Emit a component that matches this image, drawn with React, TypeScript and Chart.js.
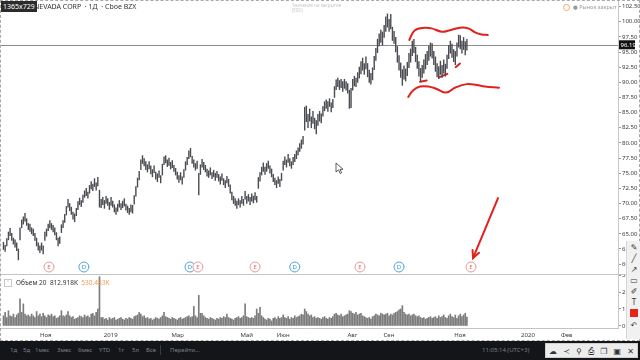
import React, { useEffect, useRef } from 'react';
import { Chart, registerables } from 'chart.js';
Chart.register(...registerables);

const FONT = '"Noto Sans", Roboto, "DejaVu Sans", sans-serif';

// daily bar lows / highs (trading-day index 0..280)
const lows = [
  62.4, 62.1, 63.0, 64.0, 64.7, 63.9, 63.3, 62.8, 62.2, 60.7,
  64.0, 66.0, 66.6, 67.1, 66.4, 65.7, 65.4, 65.0, 64.7, 63.9,
  63.0, 62.3, 61.9, 62.3, 61.7, 63.9, 64.6, 65.5, 66.0, 65.7,
  65.3, 64.8, 64.0, 63.0, 63.4, 65.2, 66.0, 66.9, 68.1, 69.4,
  68.8, 68.2, 67.4, 67.0, 68.0, 69.0, 69.8, 69.5, 70.2, 71.0,
  71.3, 70.9, 71.7, 72.4, 72.1, 72.8, 72.2, 72.9, 69.4, 69.3,
  69.8, 69.2, 70.0, 69.7, 69.0, 69.7, 69.4, 68.6, 68.2, 68.7,
  69.4, 69.0, 69.3, 69.6, 68.9, 68.5, 68.2, 68.6, 68.4, 69.9,
  71.2, 72.7, 73.9, 75.6, 76.6, 76.2, 75.6, 75.2, 75.7, 74.9,
  74.4, 75.1, 74.0, 73.6, 74.3, 73.4, 74.7, 76.4, 76.7, 76.1,
  76.3, 75.7, 75.9, 75.3, 74.7, 74.0, 73.5, 73.9, 73.2, 74.3,
  75.5, 76.4, 77.4, 77.7, 76.6, 76.0, 75.5, 75.8, 71.4, 74.8,
  76.0, 75.6, 75.2, 74.5, 74.3, 74.7, 74.1, 74.4, 73.8, 74.3,
  73.7, 73.2, 73.8, 73.1, 72.6, 73.4, 72.8, 71.7, 70.6, 70.0,
  69.7, 69.2, 69.8, 69.4, 70.0, 69.7, 70.7, 70.0, 70.4, 69.8,
  70.4, 70.1, 70.6, 70.2, 72.5, 73.7, 74.7, 75.3, 74.8, 75.3,
  75.8, 75.0, 74.4, 73.6, 73.1, 72.6, 73.3, 72.8, 73.8, 75.5,
  76.4, 76.0, 76.8, 76.2, 75.8, 76.4, 76.9, 77.4, 78.0, 78.6,
  79.1, 79.8, 82.1, 83.5, 82.5, 83.6, 82.5, 83.2, 82.3, 81.5,
  82.9, 83.6, 83.3, 84.4, 85.3, 85.7, 85.2, 86.0, 85.1, 85.8,
  87.5, 88.8, 89.3, 88.8, 89.1, 88.5, 89.0, 88.7, 88.2, 85.7,
  85.8, 88.7, 89.4, 89.3, 90.0, 90.7, 91.4, 92.0, 91.3, 92.2,
  90.9, 90.0, 89.7, 90.4, 92.1, 93.6, 94.9, 96.0, 96.6, 96.1,
  97.4, 98.4, 99.1, 98.4, 98.8, 96.9, 96.4, 95.0, 93.3, 92.0,
  90.8, 89.5, 90.5, 90.2, 91.1, 92.4, 93.3, 94.4, 94.9, 93.4,
  92.3, 91.0, 90.1, 90.8, 91.5, 92.2, 92.9, 93.6, 94.3, 94.0,
  92.9, 91.8, 90.9, 90.6, 91.3, 90.8, 91.5, 91.0, 92.3, 93.9,
  94.8, 94.1, 93.4, 92.9, 94.3, 95.8, 95.5, 94.8, 95.4, 94.5, 95.3,
];
const highs = [
  63.6, 63.1, 64.2, 65.3, 65.9, 65.1, 64.3, 64.0, 63.5, 62.5,
  66.0, 67.3, 67.8, 68.4, 67.5, 66.7, 66.6, 66.0, 65.8, 65.1,
  64.3, 63.5, 63.0, 63.5, 63.0, 65.3, 65.8, 66.6, 67.2, 66.7,
  66.4, 66.0, 65.2, 64.3, 64.5, 66.5, 67.2, 68.2, 69.5, 70.7,
  70.0, 69.4, 68.6, 68.3, 69.2, 70.3, 70.9, 70.5, 71.4, 72.1,
  72.5, 71.9, 73.0, 73.6, 73.2, 74.1, 73.4, 74.3, 72.2, 70.7,
  71.0, 70.5, 71.2, 70.8, 70.2, 71.0, 70.4, 69.8, 69.3, 69.9,
  70.5, 70.0, 70.4, 70.8, 69.9, 69.6, 69.2, 69.8, 69.7, 71.3,
  72.8, 74.2, 75.3, 77.2, 77.9, 77.4, 76.9, 76.4, 76.9, 76.2,
  75.6, 76.2, 75.2, 74.9, 75.4, 74.6, 76.5, 77.7, 77.9, 77.2,
  77.5, 76.8, 77.1, 76.3, 75.8, 75.2, 74.6, 75.1, 74.4, 75.6,
  76.9, 77.6, 78.7, 79.1, 77.8, 77.2, 76.6, 77.0, 75.0, 76.4,
  77.3, 76.8, 76.3, 75.7, 75.4, 75.9, 75.1, 75.5, 75.0, 75.3,
  74.8, 74.4, 74.9, 74.1, 73.8, 74.5, 74.0, 73.1, 71.9, 71.2,
  70.8, 70.4, 70.8, 70.5, 71.2, 70.7, 72.0, 71.2, 71.5, 71.0,
  71.6, 71.2, 71.8, 71.2, 74.3, 75.1, 76.0, 76.7, 76.0, 76.6,
  77.0, 76.2, 75.7, 74.8, 74.2, 73.8, 74.4, 74.0, 75.0, 77.0,
  77.7, 77.2, 78.1, 77.4, 76.9, 77.6, 78.1, 78.7, 79.2, 79.9,
  80.5, 81.1, 85.9, 86.1, 84.7, 85.6, 84.3, 85.2, 84.1, 83.7,
  84.7, 85.2, 84.8, 86.0, 86.8, 87.1, 86.8, 87.3, 86.6, 87.2,
  89.3, 90.4, 90.7, 90.3, 90.5, 90.1, 90.5, 90.1, 89.8, 88.7,
  89.0, 90.5, 91.0, 90.7, 91.6, 92.5, 93.4, 94.0, 93.1, 94.2,
  93.1, 92.0, 91.5, 92.4, 94.3, 95.6, 97.1, 98.0, 98.6, 98.3,
  99.4, 100.8, 101.3, 100.4, 101.2, 99.1, 98.4, 97.4, 95.9, 94.4,
  93.2, 92.1, 92.7, 92.2, 93.3, 94.8, 95.5, 96.8, 97.1, 95.8,
  94.5, 93.4, 92.3, 92.8, 93.7, 94.6, 95.1, 96.0, 96.5, 96.4,
  95.1, 94.2, 93.1, 92.6, 93.5, 92.8, 93.7, 93.0, 94.5, 96.1,
  96.8, 96.3, 95.4, 95.1, 96.5, 97.8, 97.7, 96.8, 97.4, 96.7, 97.1,
];
// daily volume, millions
const volumes = [
  0.6, 0.8, 0.5, 0.9, 0.6, 0.55, 0.7, 0.5, 0.65, 0.75,
  1.6, 0.8, 1.3, 0.7, 0.6, 0.65, 0.55, 0.7, 0.6, 0.5,
  0.85, 0.6, 0.7, 0.55, 0.75, 0.6, 0.5, 0.65, 0.6, 0.7,
  0.55, 0.6, 0.45, 0.5, 0.6, 0.9, 0.6, 0.55, 0.65, 0.85,
  0.6, 0.5, 0.55, 0.4, 0.45, 0.5, 0.6, 0.55, 0.5, 0.65,
  0.55, 0.6, 0.5, 0.7, 0.75, 0.6, 0.8, 1.0, 2.9, 0.5,
  0.5, 0.4, 0.45, 0.35, 0.5, 0.4, 0.45, 0.5, 0.35, 0.4,
  0.45, 0.5, 0.4, 0.35, 0.45, 0.4, 0.5, 0.45, 0.4, 0.55,
  0.6, 0.65, 0.8, 0.7, 0.55, 0.6, 0.45, 0.5, 0.4, 0.45,
  0.35, 0.4, 0.5, 0.45, 0.4, 0.5, 0.6, 0.8, 0.55, 0.5,
  0.45, 0.4, 0.5, 0.45, 0.4, 0.35, 0.45, 0.5, 0.4, 0.45,
  0.5, 0.55, 0.6, 0.5, 0.55, 1.15, 0.6, 0.5, 1.8, 0.75,
  0.75, 0.6, 0.5, 0.45, 0.4, 0.5, 0.45, 0.4, 0.35, 0.45,
  0.4, 0.5, 0.45, 0.55, 0.5, 0.7, 0.5, 0.45, 0.4, 0.35,
  0.45, 0.5, 0.55, 0.45, 0.5, 0.6, 1.3, 0.55, 0.5, 0.45,
  0.5, 0.45, 0.6, 1.0, 0.75, 1.1, 0.6, 0.5, 0.4, 0.35,
  0.45, 0.4, 0.3, 0.45, 0.5, 0.4, 0.55, 0.45, 0.5, 0.65,
  0.5, 0.45, 0.55, 0.4, 0.5, 0.45, 0.6, 0.5, 0.55, 0.6,
  0.7, 0.65, 1.0, 0.85, 0.7, 0.6, 0.65, 0.5, 0.55, 0.45,
  0.5, 0.45, 0.4, 0.5, 0.55, 0.45, 0.4, 0.5, 0.45, 0.55,
  0.7, 0.75, 0.65, 0.6, 0.7, 0.55, 0.6, 0.65, 0.7, 0.9,
  0.85, 0.75, 0.7, 0.8, 0.65, 0.7, 0.75, 0.6, 0.55, 0.5,
  0.45, 0.5, 0.4, 0.55, 0.6, 0.7, 0.65, 0.6, 0.75, 0.7,
  0.65, 0.7, 0.75, 0.6, 0.7, 0.65, 0.75, 0.8, 0.85, 0.95,
  1.0, 1.2, 0.8, 0.7, 0.65, 0.7, 0.6, 0.65, 0.7, 0.6,
  0.55, 0.6, 0.5, 0.45, 0.5, 0.4, 0.45, 0.5, 0.55, 0.45,
  0.5, 0.55, 0.45, 0.6, 0.5, 0.55, 0.65, 0.5, 0.45, 0.6,
  0.7, 0.55, 0.5, 0.65, 0.45, 0.6, 0.7, 0.55, 0.65, 0.75, 0.53,
];

const monthTickIdx = [25.5, 64.8, 105.3, 147, 169, 210.8, 232.9, 275.8, 316.9, 340.3];
const monthLabels = ['Ноя', '2019', 'Мар', 'Май', 'Июн', 'Авг', 'Сен', 'Ноя', '2020', 'Фев'];

const eventIdx = [27.5, 48.6, 112.7, 117.5, 152, 176, 215.4, 239, 282.5];
const eventTypes = ['E', 'D', 'D', 'E', 'E', 'D', 'E', 'D', 'E'];

const lastPrice = 96.19;

// hand-drawn red annotations (trading-day index, price)
const upperCurve = [
  { x: 245.2, y: 97.0 }, { x: 248.6, y: 98.6 }, { x: 254.7, y: 99.0 }, { x: 258.7, y: 98.9 },
  { x: 264.8, y: 98.35 }, { x: 269.8, y: 98.6 }, { x: 275.8, y: 99.0 }, { x: 280.8, y: 98.9 },
  { x: 284.9, y: 98.25 }, { x: 288.9, y: 97.9 }, { x: 292.6, y: 97.8 },
];
const lowerCurve = [
  { x: 244.6, y: 87.6 }, { x: 247.6, y: 88.7 }, { x: 251.7, y: 89.3 }, { x: 256.7, y: 89.3 },
  { x: 261.8, y: 88.9 }, { x: 267.4, y: 88.3 }, { x: 272.8, y: 89.1 }, { x: 279.9, y: 89.7 },
  { x: 285.9, y: 89.55 }, { x: 290.9, y: 89.3 }, { x: 299.4, y: 89.1 },
];
const support1 = [{ x: 251.7, y: 90.1 }, { x: 255.7, y: 90.3 }];
const support2 = [{ x: 263.1, y: 90.8 }, { x: 268.2, y: 91.4 }];
const support3 = [{ x: 273.2, y: 92.5 }, { x: 275.8, y: 93.1 }];
const arrowLine = [{ x: 298.8, y: 70.9 }, { x: 283.7, y: 61.0 }];

const X_MIN = -2.1;
const X_MAX = 371.3;
const P_MIN = 58.37;
const P_MAX = 103.58;
const VOL_MIN = -0.118;
const VOL_MAX = 3.059;

const RED = '#e3211c';

const redLine = (data: any[], tension = 0.4) => ({
  type: 'line' as const,
  data,
  borderColor: RED,
  borderWidth: 2,
  pointRadius: 0,
  tension,
  borderCapStyle: 'round' as const,
  borderJoinStyle: 'round' as const,
  fill: false,
});

const pricePlugin = {
  id: 'pricePlugin',
  beforeDatasetsDraw(chart: any) {
    const { ctx, chartArea, scales } = chart;
    const y = Math.round(scales.y.getPixelForValue(lastPrice)) + 0.5;
    ctx.save();
    ctx.strokeStyle = '#8c8c8c';
    ctx.lineWidth = 1;
    ctx.beginPath();
    ctx.moveTo(chartArea.left, y);
    ctx.lineTo(chartArea.right, y);
    ctx.stroke();
    ctx.restore();
  },
  afterDatasetsDraw(chart: any) {
    const { ctx, chartArea, scales } = chart;
    ctx.save();
    // arrow head
    const p0x = scales.x.getPixelForValue(arrowLine[0].x);
    const p0y = scales.y.getPixelForValue(arrowLine[0].y);
    const p1x = scales.x.getPixelForValue(arrowLine[1].x);
    const p1y = scales.y.getPixelForValue(arrowLine[1].y);
    const ang = Math.atan2(p1y - p0y, p1x - p0x);
    const len = 8;
    ctx.strokeStyle = RED;
    ctx.lineWidth = 2;
    ctx.lineCap = 'round';
    ctx.beginPath();
    ctx.moveTo(p1x - len * Math.cos(ang - 0.45), p1y - len * Math.sin(ang - 0.45));
    ctx.lineTo(p1x, p1y);
    ctx.lineTo(p1x - len * Math.cos(ang + 0.45), p1y - len * Math.sin(ang + 0.45));
    ctx.stroke();
    // event markers
    const cy = chartArea.bottom - 7;
    eventIdx.forEach((v, i) => {
      const cx = scales.x.getPixelForValue(v);
      const isE = eventTypes[i] === 'E';
      const col = isE ? '#e89a9a' : '#4da3df';
      ctx.beginPath();
      ctx.arc(cx, cy, 5, 0, Math.PI * 2);
      ctx.fillStyle = '#ffffff';
      ctx.fill();
      ctx.lineWidth = 1;
      ctx.strokeStyle = col;
      ctx.stroke();
      ctx.fillStyle = isE ? '#d9706f' : '#2f8fd6';
      ctx.font = `6px ${FONT}`;
      ctx.textAlign = 'center';
      ctx.textBaseline = 'middle';
      ctx.fillText(eventTypes[i], cx, cy + 0.5);
    });
    ctx.restore();
  },
  afterDraw(chart: any) {
    const { ctx, chartArea, scales } = chart;
    const y = scales.y.getPixelForValue(lastPrice);
    ctx.save();
    ctx.fillStyle = '#111111';
    ctx.fillRect(chartArea.right + 1, y - 4.5, 16, 9);
    ctx.fillStyle = '#ffffff';
    ctx.font = `6px ${FONT}`;
    ctx.textAlign = 'left';
    ctx.textBaseline = 'middle';
    ctx.fillText(lastPrice.toFixed(2), chartArea.right + 2.5, y + 0.5);
    ctx.restore();
  },
};

const volPlugin = {
  id: 'volPlugin',
  afterDraw(chart: any) {
    const { ctx } = chart;
    ctx.save();
    ctx.strokeStyle = '#c4c4c4';
    ctx.lineWidth = 1;
    ctx.beginPath();
    ctx.moveTo(0, 0.5);
    ctx.lineTo(640, 0.5);
    ctx.stroke();
    ctx.restore();
  },
};

function PriceChart() {
  const ref = useRef<HTMLCanvasElement>(null);
  useEffect(() => {
    const chart = new Chart(ref.current as HTMLCanvasElement, {
      type: 'bar',
      data: {
        datasets: [
          {
            type: 'bar',
            data: lows.map((l, i) => ({ x: i, y: [l, highs[i]] })) as any,
            backgroundColor: '#4a4c52',
            borderWidth: 0,
            barThickness: 0.75,
            grouped: false,
          } as any,
          redLine(upperCurve),
          redLine(lowerCurve),
          redLine(support1, 0),
          redLine(support2, 0),
          redLine(support3, 0),
          redLine(arrowLine, 0),
        ],
      },
      options: {
        animation: false,
        responsive: false,
        maintainAspectRatio: false,
        layout: { padding: 0, autoPadding: false },
        plugins: { legend: { display: false }, tooltip: { enabled: false } },
        scales: {
          x: { type: 'linear', min: X_MIN, max: X_MAX, offset: false, display: false },
          y: {
            type: 'linear',
            position: 'right',
            min: P_MIN,
            max: P_MAX,
            afterFit: (s: any) => {
              s.width = 22;
              s.paddingTop = 0;
              s.paddingBottom = 0;
            },
            grid: { drawOnChartArea: false, drawTicks: true, tickLength: 3, color: '#9a9a9a' },
            border: { color: '#c8c8c8' },
            ticks: {
              stepSize: 2.5,
              includeBounds: false,
              padding: 1,
              color: '#3a3a3a',
              font: { size: 6, family: FONT },
              callback: (v: any) => Number(v).toFixed(2),
            },
          },
        },
      } as any,
      plugins: [pricePlugin],
    });
    return () => chart.destroy();
  }, []);
  return <canvas ref={ref} width={640} height={274} style={{ display: 'block' }} />;
}

function VolumeChart() {
  const ref = useRef<HTMLCanvasElement>(null);
  useEffect(() => {
    const chart = new Chart(ref.current as HTMLCanvasElement, {
      type: 'bar',
      data: {
        datasets: [
          {
            data: volumes.map((v, i) => ({ x: i, y: v })) as any,
            backgroundColor: '#7c7c7c',
            borderWidth: 0,
            barThickness: 1,
          } as any,
        ],
      },
      options: {
        animation: false,
        responsive: false,
        maintainAspectRatio: false,
        layout: { padding: 0, autoPadding: false },
        plugins: { legend: { display: false }, tooltip: { enabled: false } },
        scales: {
          x: {
            type: 'linear',
            min: X_MIN,
            max: X_MAX,
            offset: false,
            afterFit: (s: any) => {
              s.height = 12;
              s.paddingLeft = 0;
              s.paddingRight = 0;
            },
            afterBuildTicks: (s: any) => {
              s.ticks = monthTickIdx.map((v) => ({ value: v }));
            },
            grid: { drawOnChartArea: false, drawTicks: false, offset: false },
            border: { color: '#c4c4c4' },
            ticks: {
              autoSkip: false,
              maxRotation: 0,
              padding: 4,
              color: '#3a3a3a',
              font: { size: 6, family: FONT },
              callback: (_v: any, i: number) => monthLabels[i],
            },
          },
          y: {
            type: 'linear',
            position: 'right',
            min: VOL_MIN,
            max: VOL_MAX,
            afterFit: (s: any) => {
              s.width = 22;
              s.paddingTop = 0;
              s.paddingBottom = 0;
            },
            grid: { drawOnChartArea: false, drawTicks: true, tickLength: 3, color: '#9a9a9a' },
            border: { color: '#c8c8c8' },
            ticks: {
              stepSize: 1,
              includeBounds: false,
              padding: 1,
              color: '#3a3a3a',
              font: { size: 6, family: FONT },
              callback: (v: any) => (Number(v) === 0 ? '0' : `${v}M`),
            },
          },
        },
      } as any,
      plugins: [volPlugin],
    });
    return () => chart.destroy();
  }, []);
  return <canvas ref={ref} width={640} height={66} style={{ display: 'block' }} />;
}

const abs = (o: React.CSSProperties): React.CSSProperties => ({ position: 'absolute', ...o });

export default function App() {
  const rangeBtns = [
    ['1д', 10], ['5д', 23], ['1мес', 35], ['3мес', 57], ['6мес', 78], ['YTD', 99],
    ['1г', 118], ['5л', 132], ['Все', 146],
  ] as [string, number][];
  const vtools = ['✎', '╱', '↗', '▭', '✐', 'T'];
  const htools = ['☁', '≺', '⚲', '⎙', '❐', '▣', '✕'];
  return (
    <div
      style={{
        position: 'fixed', left: 0, top: 0, width: 640, height: 360, overflow: 'hidden',
        background: '#ffffff', fontFamily: FONT,
      }}
    >
      <div style={abs({ left: 0, top: 0, width: 640, height: 274 })}>
        <PriceChart />
      </div>
      <div style={abs({ left: 0, top: 274, width: 640, height: 66 })}>
        <VolumeChart />
      </div>

      {/* title */}
      <div style={abs({ left: 1, top: 1, height: 11, padding: '0 2px', background: '#2b2b2b', color: '#fff', fontSize: 7, lineHeight: '11px' })}>1365x729</div>
      <div style={abs({ left: 34, top: 2, fontSize: 7, lineHeight: '10px', color: '#333', whiteSpace: 'nowrap' })}>
        NEVADA CORP&nbsp;&nbsp;·&nbsp;1Д&nbsp;&nbsp;·&nbsp;Cboe BZX
      </div>
      <div style={abs({ left: 292, top: 3, fontSize: 4.5, lineHeight: '5px', color: '#c8c8c8', whiteSpace: 'nowrap' })}>
        Значение на закрытие<br />(ESD)
      </div>
      {/* market closed */}
      <div style={abs({ left: 563, top: 4, width: 7, height: 7, borderRadius: 4, border: '1px solid #f0a860', boxSizing: 'border-box' })} />
      <div style={abs({ left: 573, top: 3, fontSize: 5.5, lineHeight: '9px', color: '#9a9a9a', whiteSpace: 'nowrap' })}>● Рынок закрыт</div>

      {/* volume legend */}
      <div style={abs({ left: 4, top: 279, width: 8, height: 8, border: '1px solid #c8c8c8', boxSizing: 'border-box', fontSize: 5, lineHeight: '6px', textAlign: 'center', color: '#555' })}>˅</div>
      <div style={abs({ left: 16, top: 279, fontSize: 6.5, lineHeight: '8px', color: '#333', whiteSpace: 'nowrap' })}>
        Объем 20&nbsp;&nbsp;812.918K&nbsp;&nbsp;<span style={{ color: '#f0a050' }}>530.483K</span>
      </div>

      {/* cursor */}
      <svg style={abs({ left: 335, top: 162 })} width={9} height={13}>
        <path d="M1 1 L1 10 L3.5 7.8 L5.2 11.5 L6.6 10.8 L5 7.3 L8 7.3 Z" fill="#fff" stroke="#333" strokeWidth={0.8} />
      </svg>

      {/* dotted selection border */}
      <div style={abs({ left: 0, top: 0, width: 640, height: 341, border: '1px dashed #a8a8a8', boxSizing: 'border-box', pointerEvents: 'none' })} />

      {/* vertical screenshot toolbar */}
      <div style={abs({ left: 626, top: 241, width: 14, height: 98, background: '#f1f1f1', borderLeft: '1px solid #d6d6d6' })}>
        {vtools.map((t, i) => (
          <div key={i} style={{ height: 11, fontSize: 8, lineHeight: '11px', textAlign: 'center', color: '#3a3a3a' }}>{t}</div>
        ))}
        <div style={{ width: 8, height: 8, margin: '2px auto', background: '#e8231a' }} />
        <div style={{ height: 11, fontSize: 8, lineHeight: '11px', textAlign: 'center', color: '#3a3a3a' }}>↶</div>
      </div>

      {/* bottom dark bar */}
      <div style={abs({ left: 0, top: 341, width: 640, height: 19, background: '#141519' })} />
      {rangeBtns.map(([t, x]) => (
        <div key={t} style={abs({ left: x, top: 346, fontSize: 6, lineHeight: '9px', color: '#7d8088', whiteSpace: 'nowrap' })}>{t}</div>
      ))}
      <div style={abs({ left: 160, top: 345, width: 1, height: 10, background: '#3a3c44' })} />
      <div style={abs({ left: 170, top: 346, fontSize: 6, lineHeight: '9px', color: '#7d8088', whiteSpace: 'nowrap' })}>Перейти...</div>
      <div style={abs({ left: 482, top: 346, fontSize: 6, lineHeight: '9px', color: '#7d8088', whiteSpace: 'nowrap' })}>11:05:14 (UTC+3)</div>

      {/* horizontal screenshot toolbar */}
      <div style={abs({ left: 545, top: 343, width: 93, height: 15, background: '#ececec', border: '1px solid #cfcfcf', boxSizing: 'border-box', display: 'flex', justifyContent: 'space-around', alignItems: 'center' })}>
        {htools.map((t, i) => (
          <span key={i} style={{ fontSize: 8, lineHeight: '13px', color: '#333' }}>{t}</span>
        ))}
      </div>
    </div>
  );
}
